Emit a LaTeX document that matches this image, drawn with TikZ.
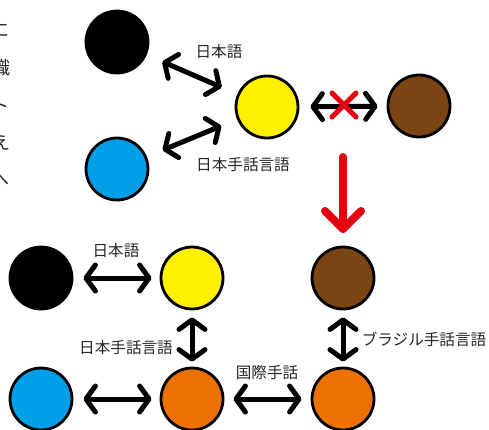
\documentclass[tikz,border=0pt]{standalone}
\usepackage{fontspec}
\newfontfamily\jp{Noto Sans CJK JP}
\usetikzlibrary{arrows.meta}
\definecolor{cyel}{HTML}{FFF000}
\definecolor{cblue}{HTML}{00A0E9}
\definecolor{cbrown}{HTML}{7B4513}
\definecolor{corange}{HTML}{EE7100}
\definecolor{cred}{HTML}{E60012}
\tikzset{
  person/.style={circle, minimum size=62pt, inner sep=0pt, line width=2.8pt, draw=black},
  barb/.tip={Straight Barb[round,length=9.5pt,width=26pt]},
  biarr/.style={line width=5pt, barb-barb},
  lbl/.style={font=\jp\fontsize{15.6}{17}\selectfont, inner sep=0pt, text=black!85},
  frag/.style={font=\jp\fontsize{18}{20}\selectfont, inner sep=0pt, anchor=east, text=black!85},
}
\begin{document}
\begin{tikzpicture}[x=1pt,y=-1pt]
\useasboundingbox (0,0) rectangle (489,429);
% cropped text fragments at left edge
\node[frag] (f1) at (10,30) {に};
\node[frag] (f2) at (11,68) {識};
\node[frag] (f3) at (10,106) {ト};
\node[frag] (f4) at (11,143) {え};
\node[frag] (f5) at (10,180) {へ};
% top group
\node[person, fill=black] (tb) at (117,42) {};
\node[person, fill=cyel] (ty) at (267,107) {};
\node[person, fill=cbrown] (tr) at (419,106) {};
\node[person, fill=cblue] (tl) at (117,169) {};
\draw[biarr, shorten <=17pt, shorten >=17pt] (tb) -- (ty);
\draw[biarr, shorten <=17pt, shorten >=17pt] (tl) -- (ty);
\node[lbl] (l1) at (219,52) {日本語};
\node[lbl] (l2) at (243,165) {日本手話言語};
\draw[biarr, shorten <=11pt, shorten >=9pt] (ty) -- (tr);
\coordinate (xc) at (344,105);
\draw[cred, line width=5pt, line cap=round] ([shift={(-12,-12)}]xc) -- ([shift={(12,12)}]xc);
\draw[cred, line width=5pt, line cap=round] ([shift={(-12,12)}]xc) -- ([shift={(12,-12)}]xc);
% red arrow
\coordinate (ra) at (343,157);
\coordinate (rb) at (343,229);
\draw[cred, line width=8pt, line cap=round] (ra) -- (rb);
\draw[cred, line width=8pt, line cap=round, line join=round] ([shift={(-18,-18)}]rb) -- (rb) -- ([shift={(18,-18)}]rb);
% bottom group
\node[person, fill=black] (bb) at (41,278) {};
\node[person, fill=cyel] (by) at (192,278) {};
\node[person, fill=cbrown] (br) at (343,278) {};
\node[person, fill=cblue] (bl) at (41,399) {};
\node[person, fill=corange] (bo) at (192,399) {};
\node[person, fill=corange] (bo2) at (343,399) {};
\draw[biarr, shorten <=10pt, shorten >=8pt] (bb) -- (by);
\draw[biarr, shorten <=10pt, shorten >=8pt] (bl) -- (bo);
\draw[biarr, shorten <=9pt, shorten >=9pt] (bo) -- (bo2);
\draw[biarr, shorten <=7pt, shorten >=5pt] (by) -- (bo);
\draw[biarr, shorten <=7pt, shorten >=5pt] (br) -- (bo2);
\node[lbl] (l3) at (116,251) {日本語};
\node[lbl] (l4) at (126,348) {日本手話言語};
\node[lbl] (l5) at (267,373) {国際手話};
\node[lbl] (l6) at (424,339) {ブラジル手話言語};
\end{tikzpicture}
\end{document}
